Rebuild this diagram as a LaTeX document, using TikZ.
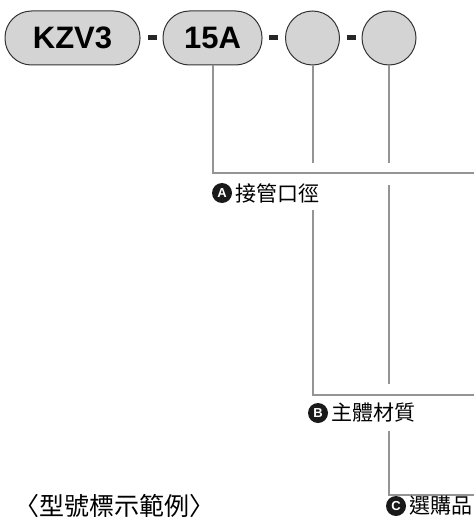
\documentclass[tikz,border=0pt]{standalone}
\usepackage{fontspec}
\setmainfont{Liberation Sans}
\newfontfamily\cjk{Noto Sans CJK TC}

\begin{document}
\begin{tikzpicture}[x=1pt,y=-1pt]

    \tikzset{
      PillStyle/.style = { rectangle, rounded corners=26.5pt, draw=black!80,
                          fill=black!17, line width=1pt, minimum height=54pt,
                          inner sep=0pt, font = \fontsize{31}{31}\selectfont\bfseries },
      BlankStyle/.style = { circle, draw=black!80, fill=black!17,
                          line width=1pt, minimum size=54pt, inner sep=0pt },
      DashStyle/.style = { rectangle, fill=black!85, minimum width=9pt,
                          minimum height=5pt, inner sep=0pt },
      MarkStyle/.style = { circle, fill=black!90, text=white, minimum size=20pt,
                          inner sep=0pt, font = \fontsize{13}{13}\selectfont\bfseries },
      LabelStyle/.style = { anchor=west, inner sep=0pt,
                          font = \cjk\fontsize{21}{21}\selectfont },
      LineStyle/.style = { draw=black!42, line width=2pt } }
      \useasboundingbox (0,0) rectangle (474,527);

      % code boxes
      \node[PillStyle, minimum width=135pt] (kzv) at (72.5,38){KZV3};
      \node[DashStyle] (d1) at (152.5,38){};
      \node[PillStyle, minimum width=99pt] (size) at (212.5,38){15A};
      \node[DashStyle] (d2) at (273.5,38){};
      \node[BlankStyle] (body) at (312.5,38){};
      \node[DashStyle] (d3) at (351.5,38){};
      \node[BlankStyle] (opt) at (389,38){};

      % leader ends
      \coordinate (ea) at (474,173);
      \coordinate (eb) at (474,395);
      \coordinate (ec) at (474,495);

      \draw[LineStyle] (size.south) |- (ea);
      \draw[LineStyle] (body.south) -- (312.5,163);
      \draw[LineStyle] (312.5,210) |- (eb);
      \draw[LineStyle] (opt.south) -- (389,163);
      \draw[LineStyle] (389,185) -- (389,384);
      \draw[LineStyle] (389,431) |- (ec);

      % labels
      \node[MarkStyle] (ma) at (222,193){A};
      \node[LabelStyle] (la) at ([xshift=3pt]ma.east){接管口徑};
      \node[MarkStyle] (mb) at (318,413){B};
      \node[LabelStyle] (lb) at ([xshift=3pt]mb.east){主體材質};
      \node[MarkStyle] (mc) at (396,506){C};
      \node[LabelStyle] (lc) at ([xshift=3pt]mc.east){選購品};

      \node[anchor=west, inner sep=0pt, font=\cjk\fontsize{25}{25}\selectfont]
        (title) at (14,506){〈型號標示範例〉};
    \end{tikzpicture}
\end{document}
